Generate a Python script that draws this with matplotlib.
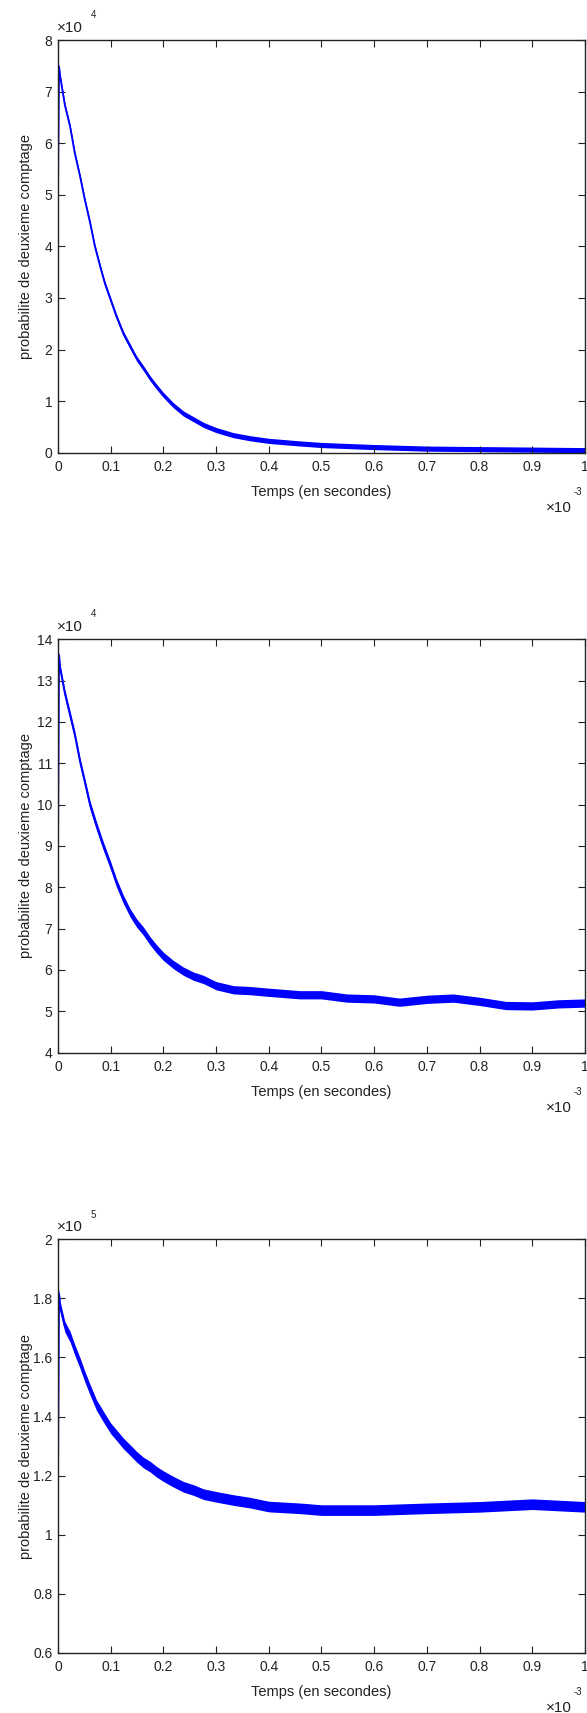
import matplotlib
matplotlib.use('Agg')
import numpy as np
import matplotlib.pyplot as plt
from matplotlib.ticker import FuncFormatter, MultipleLocator

plt.rcParams['font.family'] = ['Liberation Sans', 'DejaVu Sans']

# temps en unites de 1e-3 s
t1 = [0, 0.002, 0.004, 0.013, 0.023, 0.032, 0.042, 0.051, 0.061, 0.070, 0.080,
      0.089, 0.100, 0.111, 0.124, 0.137, 0.149, 0.162, 0.175, 0.187, 0.200,
      0.219, 0.238, 0.257, 0.276, 0.300, 0.333, 0.365, 0.400, 0.459, 0.5,
      0.6, 0.7, 0.8, 0.9, 1.0]
y1 = [5.03, 7.49, 7.30, 6.74, 6.32, 5.80, 5.35, 4.90, 4.45, 4.00, 3.61,
      3.28, 2.96, 2.64, 2.31, 2.06, 1.83, 1.64, 1.44, 1.28, 1.12,
      0.92, 0.76, 0.65, 0.54, 0.44, 0.34, 0.28, 0.23, 0.18, 0.15,
      0.11, 0.08, 0.07, 0.06, 0.05]   # x 1e4

t2 = [0, 0.002, 0.004, 0.013, 0.023, 0.032, 0.042, 0.051, 0.061, 0.073, 0.086,
      0.100, 0.111, 0.124, 0.137, 0.149, 0.162, 0.175, 0.187, 0.200, 0.219,
      0.238, 0.257, 0.276, 0.300, 0.333, 0.365, 0.400, 0.459, 0.5, 0.548,
      0.6, 0.648, 0.7, 0.75, 0.8, 0.85, 0.9, 0.95, 1.0]
y2 = [8.84, 13.62, 13.30, 12.69, 12.16, 11.68, 11.03, 10.54, 9.98, 9.49, 9.00,
      8.52, 8.11, 7.71, 7.38, 7.14, 6.94, 6.70, 6.51, 6.33, 6.13,
      5.97, 5.85, 5.77, 5.62, 5.52, 5.50, 5.46, 5.40, 5.40, 5.32,
      5.30, 5.22, 5.29, 5.32, 5.24, 5.14, 5.13, 5.18, 5.20]   # x 1e4

t3 = [0, 0.002, 0.004, 0.013, 0.023, 0.032, 0.042, 0.051, 0.061, 0.073, 0.086,
      0.100, 0.111, 0.124, 0.137, 0.149, 0.162, 0.175, 0.187, 0.200, 0.219,
      0.238, 0.257, 0.276, 0.300, 0.333, 0.365, 0.400, 0.459, 0.5, 0.6,
      0.7, 0.8, 0.9, 1.0]
y3 = [1.179, 1.817, 1.772, 1.704, 1.670, 1.625, 1.580, 1.535, 1.490, 1.439, 1.400,
      1.360, 1.337, 1.309, 1.286, 1.264, 1.244, 1.230, 1.213, 1.198, 1.179,
      1.162, 1.151, 1.137, 1.128, 1.117, 1.108, 1.095, 1.089, 1.083, 1.083,
      1.089, 1.094, 1.103, 1.094]   # x 1e5

# largeur du bruit (demi-bande)
bruit = [0.05, 0.10, 0.018]
ylims = [(0, 8), (4, 14), (0.6, 2)]
ysteps = [1, 1, 0.2]
expos = ['4', '4', '5']
boxes = [(0.0988, 0.7357, 0.8978, 0.2409),
         (0.0988, 0.3855, 0.8978, 0.2413),
         (0.0988, 0.0352, 0.8978, 0.2413)]

fig = plt.figure(figsize=(5.87, 17.13), dpi=100)
fmt = FuncFormatter(lambda v, p: '%g' % round(v, 6))

for i, (t, y) in enumerate([(t1, y1), (t2, y2), (t3, y3)]):
    ax = fig.add_axes(boxes[i])
    t = np.array(t); y = np.array(y)
    ax.fill_between(t, y - bruit[i], y + bruit[i], color='#0000ff', lw=0)
    ax.plot(t, y, color='#0000ff', lw=1.3)
    ax.set_xlim(0, 1)
    ax.set_ylim(*ylims[i])
    ax.xaxis.set_major_locator(MultipleLocator(0.1))
    ax.yaxis.set_major_locator(MultipleLocator(ysteps[i]))
    ax.xaxis.set_major_formatter(fmt)
    ax.yaxis.set_major_formatter(fmt)
    ax.tick_params(direction='in', length=5, width=0.8, top=True, right=True,
                   labelsize=10, colors='#222222')
    ax.tick_params(axis='x', pad=5.5)
    ax.tick_params(axis='y', pad=4)
    for s in ax.spines.values():
        s.set_linewidth(1.0)
        s.set_color('#222222')
    ax.set_xlabel('Temps (en secondes)', fontsize=10.5, color='#222222')
    ax.set_ylabel('probabilite de deuxieme comptage', fontsize=10.5, color='#222222')
    ax.xaxis.set_label_coords(0.5, -0.078)
    ax.yaxis.set_label_coords(-0.047, 0.5)
    # facteurs d'echelle facon matlab
    ax.text(-0.002, 1.03, '×10', transform=ax.transAxes, fontsize=11,
            color='#222222', va='center', ha='left')
    ax.text(0.062, 1.06, expos[i], transform=ax.transAxes, fontsize=7,
            color='#222222', va='center', ha='left')
    ax.text(0.975, -0.133, '×10', transform=ax.transAxes, fontsize=11,
            color='#222222', va='center', ha='right')
    ax.text(0.978, -0.095, '-3', transform=ax.transAxes, fontsize=7,
            color='#222222', va='center', ha='left')

fig.savefig('out.png', dpi=100)
